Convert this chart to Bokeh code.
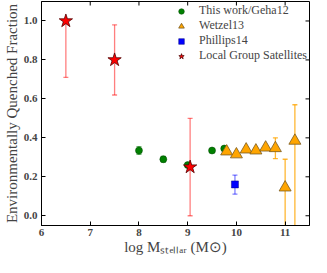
import math
from bokeh.plotting import figure
from bokeh.models import (ColumnDataSource, Whisker, TeeHead, Legend, LegendItem,
                          FixedTicker, Range1d, PrintfTickFormatter)
from bokeh.embed import file_html
from bokeh.resources import INLINE

# ---- data ----
geha_x = [8.0, 8.5, 9.0, 9.5, 9.75]
geha_y = [0.335, 0.29, 0.26, 0.335, 0.345]
geha_err = [0.02, 0.015, 0.01, 0.01, 0.01]

wetzel_x = [9.8, 10.0, 10.2, 10.4, 10.6, 10.8, 11.0, 11.2]
wetzel_y = [0.33, 0.315, 0.34, 0.335, 0.35, 0.347, 0.145, 0.385]
wetzel_lo = [0.33, 0.315, 0.34, 0.335, 0.35, 0.293, -0.1, -0.1]
wetzel_hi = [0.33, 0.315, 0.34, 0.335, 0.35, 0.40, 0.29, 0.57]

phil_x = [9.97]
phil_y = [0.161]
phil_lo = [0.111]
phil_hi = [0.209]

lg_x = [6.5, 7.5, 9.05]
lg_y = [1.0, 0.8, 0.25]
lg_lo = [0.71, 0.62, 0.0]
lg_hi = [1.0, 0.98, 0.5]

x_ticks = [6, 7, 8, 9, 10, 11]
y_ticks = [0.0, 0.2, 0.4, 0.6, 0.8, 1.0]
x_lim = (6, 11.5)
y_lim = (-0.05, 1.1)

SERIF = "Liberation Serif"

p = figure(width=311, height=257, output_backend="svg", toolbar_location=None,
           x_range=Range1d(*x_lim), y_range=Range1d(*y_lim),
           min_border_left=33, min_border_right=2, min_border_top=1, min_border_bottom=20)
p.grid.visible = False
p.outline_line_color = "black"
p.outline_line_width = 1

for ax in (p.xaxis[0], p.yaxis[0]):
    ax.major_tick_in = 4
    ax.major_tick_out = 0
    ax.minor_tick_in = 0
    ax.minor_tick_out = 0
    ax.major_label_text_font = SERIF
    ax.major_label_text_font_style = "bold"
    ax.major_label_text_font_size = "11px"
    ax.axis_label_text_font = SERIF
    ax.axis_label_text_font_style = "normal"
    ax.axis_line_color = "black"

p.xaxis[0].ticker = FixedTicker(ticks=x_ticks)
p.yaxis[0].ticker = FixedTicker(ticks=y_ticks)
p.yaxis[0].formatter = PrintfTickFormatter(format="%.1f")
p.xaxis[0].major_label_standoff = 3
p.yaxis[0].major_label_standoff = 4
p.xaxis[0].axis_label = "log Mₛₜₑₗₗₐᵣ (M⊙)"
p.xaxis[0].axis_label_text_font_size = "15px"
p.xaxis[0].axis_label_standoff = 0
p.yaxis[0].axis_label = "Environmentally Quenched Fraction"
p.yaxis[0].axis_label_text_font_size = "15px"
p.yaxis[0].axis_label_standoff = 1

# ticks on top and right edges (inward)
p.ray(x=x_ticks, y=[y_lim[1]] * len(x_ticks), length=4, length_units="screen",
      angle=-math.pi / 2, line_color="black", line_width=1)
p.ray(x=[x_lim[1]] * len(y_ticks), y=y_ticks, length=4, length_units="screen",
      angle=math.pi, line_color="black", line_width=1)

# error bars
def whisk(x, lo, hi, color, alpha):
    src = ColumnDataSource(dict(x=x, lo=lo, hi=hi))
    w = Whisker(source=src, base="x", lower="lo", upper="hi", dimension="height",
                line_color=color, line_alpha=alpha, line_width=1.3,
                lower_head=TeeHead(size=5, line_color=color, line_alpha=alpha, line_width=1.3),
                upper_head=TeeHead(size=5, line_color=color, line_alpha=alpha, line_width=1.3))
    p.add_layout(w)

geha_lo = [y - e for y, e in zip(geha_y, geha_err)]
geha_hi = [y + e for y, e in zip(geha_y, geha_err)]
whisk(geha_x, geha_lo, geha_hi, "green", 0.6)
whisk(wetzel_x, wetzel_lo, wetzel_hi, "orange", 0.8)
whisk(phil_x, phil_lo, phil_hi, "blue", 0.5)
whisk(lg_x, lg_lo, lg_hi, "red", 0.5)

r_g = p.scatter(geha_x, geha_y, marker="circle", size=7, fill_color="green",
                line_color="#004400", line_width=0.5)
r_w = p.scatter(wetzel_x, wetzel_y, marker="triangle", size=12, fill_color="orange",
                line_color="#7a5a20", line_width=0.8)
r_p = p.scatter(phil_x, phil_y, marker="square", size=7, fill_color="blue",
                line_color="#000080", line_width=0.5)
r_l = p.scatter(lg_x, lg_y, marker="star", size=14, fill_color="red",
                line_color="#500000", line_width=0.8)

legend = Legend(items=[
    LegendItem(label="This work/Geha12", renderers=[r_g]),
    LegendItem(label="Wetzel13", renderers=[r_w]),
    LegendItem(label="Phillips14", renderers=[r_p]),
    LegendItem(label="Local Group Satellites", renderers=[r_l]),
], location="top_right")
legend.border_line_color = None
legend.background_fill_alpha = 0
legend.label_text_font = SERIF
legend.label_text_font_size = "12px"
legend.glyph_width = 30
legend.glyph_height = 14
legend.label_height = 14
legend.spacing = 0
legend.padding = 2
legend.margin = 2
legend.label_standoff = 3
p.add_layout(legend, "center")

open("out.html", "w").write(file_html(p, INLINE))
